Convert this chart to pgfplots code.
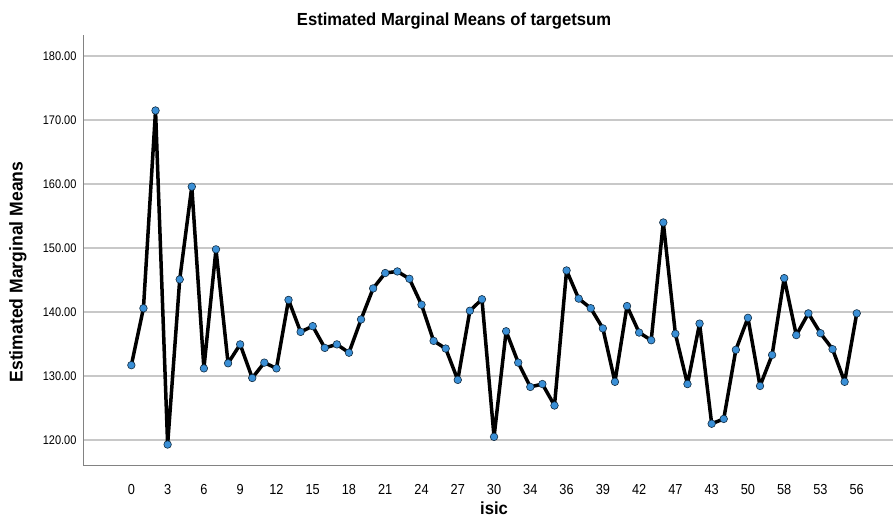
\documentclass[border=0pt]{standalone}
\usepackage{fontspec}
\setmainfont{Liberation Sans}[FakeStretch=0.88]
\newfontfamily\titlefont{Liberation Sans}[FakeStretch=0.95]
\usepackage{pgfplots}
\pgfplotsset{compat=1.18}
\definecolor{gridc}{RGB}{200,200,200}
\definecolor{axc}{RGB}{130,130,130}
\definecolor{mk}{RGB}{58,143,214}
\begin{document}
\begin{tikzpicture}[x=1pt,y=1pt]
\useasboundingbox (0,0) rectangle (894,525);
\begin{axis}[at={(83pt,60pt)}, anchor=south west,
  width=810pt, height=430pt, scale only axis,
  xmin=-4, xmax=63, ymin=116.1, ymax=183.3,
  axis x line=bottom, axis y line=left,
  axis line style={-, draw=axc, line width=1pt},
  major tick length=0pt,
  xtick={0,3,...,60},
  xticklabels={0,3,6,9,12,15,18,21,24,27,30,34,36,39,42,47,43,50,58,53,56},
  ytick={120,130,...,180},
  yticklabel={\pgfmathprintnumber[fixed,fixed zerofill,precision=2]{\tick}},
  /pgf/number format/assume math mode=true,
  ymajorgrids, grid style={gridc, line width=1.3pt},
  xticklabel style={font=\fontsize{14.5}{16}\selectfont, yshift=-16pt},
  yticklabel style={font=\fontsize{12.5}{14}\selectfont, xshift=-3pt},
  clip=false,
]
\addplot[black, line width=3.5pt, line join=round,
  mark=*, mark size=3.8pt, mark options={fill=mk, draw=black!70!mk, line width=0.6pt}]
coordinates {
(0,131.7)(1,140.6)(2,171.5)(3,119.3)(4,145.1)(5,159.6)(6,131.2)(7,149.8)(8,132.0)(9,134.95)
(10,129.7)(11,132.1)(12,131.2)(13,141.9)(14,136.9)(15,137.8)(16,134.4)(17,134.95)(18,133.65)(19,138.85)
(20,143.7)(21,146.1)(22,146.35)(23,145.2)(24,141.15)(25,135.5)(26,134.3)(27,129.4)(28,140.2)(29,142.0)
(30,120.5)(31,137.0)(32,132.1)(33,128.3)(34,128.75)(35,125.4)(36,146.5)(37,142.1)(38,140.6)(39,137.45)
(40,129.1)(41,140.94)(42,136.8)(43,135.6)(44,154.0)(45,136.6)(46,128.75)(47,138.2)(48,122.55)(49,123.3)
(50,134.1)(51,139.1)(52,128.45)(53,133.3)(54,145.3)(55,136.4)(56,139.8)(57,136.7)(58,134.2)(59,129.1)
(60,139.8)
};
\end{axis}
\node[font=\titlefont\bfseries\fontsize{17.5}{19}\selectfont] at (454,504) {Estimated Marginal Means of targetsum};
\node[font=\titlefont\bfseries\fontsize{18.5}{20}\selectfont, rotate=90] at (18,253) {Estimated Marginal Means};
\node[font=\titlefont\bfseries\fontsize{17.5}{19}\selectfont] at (494,17) {isic};
\end{tikzpicture}
\end{document}
